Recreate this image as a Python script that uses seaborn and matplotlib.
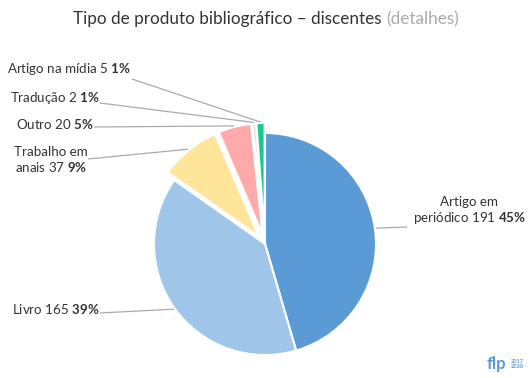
import numpy as np
import matplotlib
matplotlib.use("Agg")
import matplotlib.pyplot as plt
import seaborn as sns

# data
categorias = ['Artigo em\nperiódico', 'Livro', 'Trabalho em\nanais', 'Outro',
              'Tradução', 'Artigo na mídia']
quantidades = [191, 165, 37, 20, 2, 5]
percentuais = [45, 39, 9, 5, 1, 1]
cores = ['#5b9bd5', '#9fc5e8', '#ffe599', '#ffaaaa', '#f4cccc', '#17c98f']
destacados = [0, 0, 1, 1, 1, 1]

sns.set_theme(style="white")
plt.rcParams['font.family'] = ['Lato', 'DejaVu Sans']
plt.rcParams['mathtext.fontset'] = 'custom'
plt.rcParams['mathtext.rm'] = 'Lato'
plt.rcParams['mathtext.bf'] = 'Lato:bold'

W, H = 529, 378
fig = plt.figure(figsize=(W / 100, H / 100), dpi=100)
ax = fig.add_axes([0, 0, 1, 1])


def px(x, y):
    # pixel position (from top-left) -> data coords
    return x, H - y


R = 111
cx, cy = px(265, 244)
wedges, _ = ax.pie(quantidades, colors=cores, radius=R, center=(cx, cy),
                   startangle=90, counterclock=False,
                   explode=[d * 10 for d in destacados],
                   wedgeprops=dict(edgecolor='white', linewidth=1.5))
ax.set_xlim(0, W)
ax.set_ylim(0, H)
ax.set_aspect('equal')
ax.axis('off')

# label layout: (anchor x, anchor y, ha, line start x, line start y)
layout = [
    (413, 211, 'left', 407, 227),
    (99, 309, 'right', 100, 313),
    (88, 160, 'right', 88, 159),
    (94, 124, 'right', 94, 127),
    (100, 98, 'right', 100, 103),
    (131, 69, 'right', 132, 79),
]

for w, cat, q, p, (lx, ly, ha, sx, sy) in zip(wedges, categorias, quantidades,
                                              percentuais, layout):
    th = np.deg2rad((w.theta1 + w.theta2) / 2)
    ex = w.center[0] + (w.r + 1) * np.cos(th)
    ey = w.center[1] + (w.r + 1) * np.sin(th)
    x0, y0 = px(sx, sy)
    ax.plot([x0, ex], [y0, ey], color='#aaaaaa', lw=0.9, solid_capstyle='butt')
    tx, ty = px(lx, ly)
    ax.text(tx, ty, f"{cat} {q} $\\mathbf{{{p}\\%}}$", ha=ha, va='center',
            multialignment='center', fontsize=9.6, color='#333333',
            linespacing=1.2)

# title
t = fig.text(73 / W, 1 - 19 / H, 'Tipo de produto bibliográfico – discentes ',
             ha='left', va='center', fontsize=12.3, color='#333333')
ax.annotate('(detalhes)', xy=(1, 0), xycoords=t, ha='left', va='bottom',
            fontsize=12.3, color='#aaaaaa')

# logo
lx, ly = px(487, 369)
ax.text(lx, ly, 'flp', fontsize=12, fontweight='bold', color='#5b9bd5',
        ha='left', va='baseline')
ax.text(lx + 24, ly + 1, '2017\n2020', fontsize=4, fontweight='bold',
        color='#5b9bd5', ha='left', va='baseline', linespacing=1.0)

plt.savefig("out.png", dpi=100)
